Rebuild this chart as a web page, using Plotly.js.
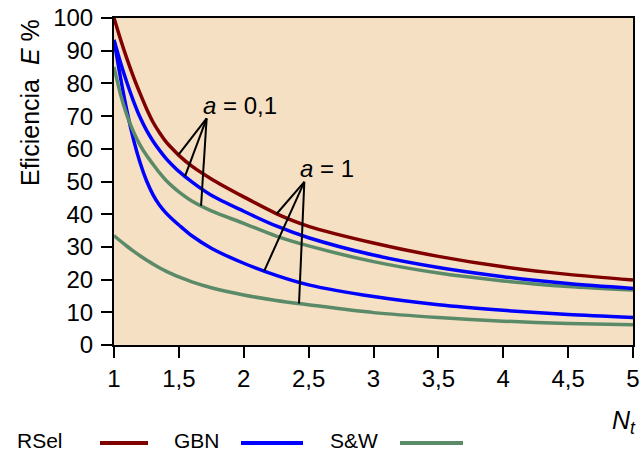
<!DOCTYPE html>
<html>
<head>
<meta charset="utf-8">
<script src="https://cdn.plot.ly/plotly-3.0.1.min.js"></script>
<style>html,body{margin:0;padding:0;background:#fff}#chart{width:641px;height:452px}</style>
</head>
<body>
<div id="chart"></div>
<script>
// Data
const nt = [1, 1.05, 1.1, 1.15, 1.2, 1.25, 1.3, 1.35, 1.4, 1.45, 1.5, 1.6, 1.75, 2, 2.25, 2.5, 3, 3.5, 4, 4.5, 5];
const rsel   = [100, 93.5, 87.5, 82, 77, 72.3, 68.2, 65.0, 62.2, 60.0, 58, 54.7, 50.8, 45.3, 40.2, 36.3, 31.2, 27.1, 23.9, 21.6, 19.9];
const gbnA01 = [93.3, 86.4, 80.2, 74.6, 69.7, 65.7, 62.4, 59.6, 57.1, 55.0, 53.1, 49.9, 45.8, 40.9, 36.4, 32.8, 27.5, 23.7, 20.9, 18.8, 17.3];
const swA01  = [85, 76.7, 70.2, 65.2, 61.2, 58, 55.3, 52.7, 50.4, 48.5, 46.8, 44, 41, 37.2, 33.3, 30.3, 25.5, 22, 19.6, 17.9, 16.8];
const gbnA1  = [93.3, 81.8, 71.5, 62.9, 55.9, 50.3, 46.0, 42.8, 40.4, 38.45, 36.7, 33.4, 29.6, 25.0, 21.3, 18.4, 14.8, 12.3, 10.6, 9.3, 8.4];
const swA1   = [33.5, 31.8, 30.2, 28.7, 27.3, 26, 24.8, 23.65, 22.6, 21.65, 20.8, 19.3, 17.5, 15.3, 13.6, 12.3, 9.9, 8.4, 7.3, 6.6, 6.2];
const xTickVals = [1, 1.5, 2, 2.5, 3, 3.5, 4, 4.5, 5];
const xTickText = ['1', '1,5', '2', '2,5', '3', '3,5', '4', '4,5', '5'];
const yTickVals = [0, 10, 20, 30, 40, 50, 60, 70, 80, 90, 100];
const legendNames = ['RSel', 'GBN', 'S&W'];

const cRed = '#800000', cBlue = '#0000ff', cGreen = '#5b8a68';
const FONT = 'Liberation Sans, Arial, sans-serif';

function interp(xs, ys, x) {
  for (let i = 0; i < xs.length - 1; i++) {
    if (x >= xs[i] && x <= xs[i + 1]) {
      const t = (x - xs[i]) / (xs[i + 1] - xs[i]);
      return ys[i] + t * (ys[i + 1] - ys[i]);
    }
  }
  return ys[ys.length - 1];
}

function tr(y, color) {
  return {x: nt, y: y, type: 'scatter', mode: 'lines',
    line: {color: color, width: 3.5, shape: 'spline', smoothing: 0.8}, showlegend: false, hoverinfo: 'skip'};
}
const traces = [tr(swA1, cGreen), tr(gbnA1, cBlue), tr(swA01, cGreen), tr(gbnA01, cBlue), tr(rsel, cRed)];

// pointer lines for annotations
const shapes = [];
function pointer(ax, ay, series, x) {
  shapes.push({type: 'line', xref: 'x', yref: 'y', x0: ax, y0: ay, x1: x, y1: interp(nt, series, x),
    line: {color: '#000', width: 2}});
}
pointer(1.714, 69.3, rsel, 1.496);
pointer(1.714, 69.3, gbnA01, 1.547);
pointer(1.714, 69.3, swA01, 1.671);
pointer(2.467, 49.9, rsel, 2.254);
pointer(2.467, 49.9, gbnA1, 2.158);
pointer(2.467, 49.9, swA1, 2.426);

// custom legend (label before line), pixel -> paper
const L = 114, R = 633, T = 18, B = 345;
const px = v => (v - L) / (R - L);
const py = v => (B - v) / (B - T);
const legendItems = [
  {name: legendNames[0], tx: 15, x0: 100, x1: 148, color: cRed},
  {name: legendNames[1], tx: 172, x0: 241, x1: 303, color: cBlue},
  {name: legendNames[2], tx: 328, x0: 400, x1: 463, color: cGreen}
];
const annotations = [
  {xref: 'x', yref: 'y', x: 1.667, y: 68.6, text: '<i>a</i> = 0,1', showarrow: false,
   xanchor: 'left', yanchor: 'bottom', font: {family: FONT, size: 24, color: '#000'}},
  {xref: 'x', yref: 'y', x: 2.417, y: 49.3, text: '<i>a</i> = 1', showarrow: false,
   xanchor: 'left', yanchor: 'bottom', font: {family: FONT, size: 24, color: '#000'}},
  {xref: 'paper', yref: 'paper', x: px(638), y: py(422), text: '<i>N</i><sub><i>t</i></sub>', showarrow: false,
   xanchor: 'right', yanchor: 'middle', font: {family: FONT, size: 25, color: '#000'}},
  {xref: 'paper', yref: 'paper', x: px(30), y: py(103), text: 'Eficiencia\u00a0\u00a0<i>E</i>\u00a0%', showarrow: false,
   textangle: -90, xanchor: 'center', yanchor: 'middle', font: {family: FONT, size: 25, color: '#000'}}
];
legendItems.forEach(it => {
  annotations.push({xref: 'paper', yref: 'paper', x: px(it.tx), y: py(440), text: it.name, showarrow: false,
    xanchor: 'left', yanchor: 'middle', font: {family: FONT, size: 21, color: '#000'}});
  shapes.push({type: 'line', xref: 'paper', yref: 'paper', x0: px(it.x0), x1: px(it.x1), y0: py(443), y1: py(443),
    line: {color: it.color, width: 4}});
});

const layout = {
  width: 641, height: 452,
  margin: {l: L, r: 641 - R, t: T, b: 452 - B},
  paper_bgcolor: '#ffffff', plot_bgcolor: '#f5e0c3',
  font: {family: FONT, size: 24, color: '#000'},
  showlegend: false,
  xaxis: {range: [1, 5], tickvals: xTickVals, ticktext: xTickText, ticks: 'outside', ticklen: 11, tickwidth: 2,
    tickcolor: '#000', showline: true, linecolor: '#000', linewidth: 2, mirror: true, showgrid: false, zeroline: false,
    tickfont: {family: FONT, size: 24}},
  yaxis: {range: [0, 100], tickvals: yTickVals, ticks: 'outside', ticklen: 11, tickwidth: 2, tickcolor: '#000',
    showline: true, linecolor: '#000', linewidth: 2, mirror: true, showgrid: false, zeroline: false,
    tickfont: {family: FONT, size: 24}, ticklabelstandoff: 3},
  shapes: shapes,
  annotations: annotations
};
Plotly.newPlot('chart', traces, layout, {displayModeBar: false, staticPlot: true});
</script>
</body>
</html>
